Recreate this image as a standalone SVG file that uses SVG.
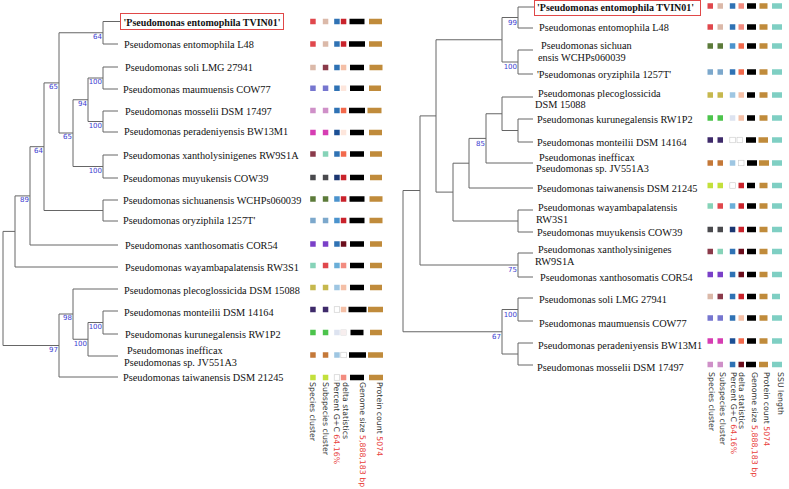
<svg xmlns="http://www.w3.org/2000/svg" width="789" height="489" viewBox="0 0 789 489">
<style>
.t{font-family:"Liberation Serif","Times New Roman",serif;font-size:10.3px;fill:#111}
.b{font-weight:bold;font-size:10px}
.s{font-family:"DejaVu Sans",sans-serif;font-size:7px;fill:#3b3bd0;text-anchor:end}
.lg{font-family:"DejaVu Sans",sans-serif;font-size:7.8px;fill:#333}
.rd{fill:#e8403a}
.e{fill:none;stroke:#666;stroke-width:1}
.box{fill:none;stroke:#e04848;stroke-width:1}
.red1{fill:#e0474c}.beige{fill:#dbb9a9}.blA{fill:#2f72b4}.blD{fill:#1c4f94}.navy{fill:#1b3671}
.blL{fill:#4b93cd}.blW{fill:#6aaed8}.blLL{fill:#9ec6e2}.blV{fill:#dde3f0}.red2{fill:#c9222b}
.salm{fill:#f28b7f}.peach{fill:#f4bfa6}.peachL{fill:#fde6dc}.oran{fill:#f2694c}.dred{fill:#6b0d1c}
.maroon{fill:#8a3a4a}.slate{fill:#7676cf}.lilac{fill:#cf90c8}.mag{fill:#d63db3}.mint{fill:#86d3b8}
.dgray{fill:#4a4a4e}.olive{fill:#5c7b3a}.steel{fill:#7ca8cc}.purp{fill:#7a40c8}.oy{fill:#c6b84e}
.dpurp{fill:#3e2a6a}.green{fill:#4cc44c}.bo{fill:#c47838}.yg{fill:#c3e03c}.blk{fill:#000}
.brown{fill:#c08b3b}.teal{fill:#7fcfc3}.wht{fill:#fff;stroke:#c8c8c8;stroke-width:0.6}.pk{fill:#f7eeee;stroke:#ddd;stroke-width:0.5}
</style>

<g id="connectors">
<path class="e" d="M3,231.4V345.5M3,231.4H15M3,345.5H59M15,195.9V267M15,195.9H30M15,267H118M30,146.7V245M30,146.7H44M30,245H118M44,82.9V210.5M44,82.9H59M44,210.5H103M103,200V221M103,200H118M103,221H118M59,32.75V133M59,32.75H103M59,133H73M103,21.5V44M103,21.5H120M103,44H118M73,99.75V166.5M73,99.75H88M73,166.5H103M103,155V178M103,155H118M103,178H118M88,78V121.5M88,78H103M88,121.5H103M103,67V89M103,67H118M103,89H118M103,111V132M103,111H118M103,132H118M59,314V377M59,314H73M59,377H118M73,289V339.25M73,289H118M73,339.25H88M88,322.5V356M88,322.5H103M88,356H118M103,311V334M103,311H118M103,334H118"/>
<path class="e" d="M403,190.5V331.75M403,190.5H420M403,331.75H502M420,115.9V265M420,115.9H436M420,265H518M518,253V277M518,253H533M518,277H533M436,39.75V192.1M436,39.75H502M436,192.1H453M502,17.5V62M502,17.5H518M502,62H518M518,7V28M518,7H534M518,28H533M518,50V74M518,50H533M518,74H533M453,163.2V221M453,163.2H469M453,221H518M518,210V232M518,210H533M518,232H533M469,138.4V188M469,138.4H486M469,188H533M486,113.75V163M486,113.75H502M486,163H533M502,97V130.5M502,97H533M502,130.5H518M518,119V142M518,119H533M518,142H533M502,309.5V354M502,309.5H518M502,354H518M518,298V321M518,298H533M518,321H533M518,343V365M518,343H533M518,365H533"/>
</g>

<g id="left-support">
<g id="lnJ1"><text class="s" x="102" y="39">64</text></g>
<g id="lnT"><text class="s" x="102" y="84.3">100</text></g>
<g id="lnU"><text class="s" x="102" y="127.8">100</text></g>
<g id="lnC"><text class="s" x="87" y="106">94</text></g>
<g id="lnR"><text class="s" x="102" y="172.8">100</text></g>
<g id="lnB"><text class="s" x="72" y="139.3">65</text></g>
<g id="lnA"><text class="s" x="58" y="89.2">65</text></g>
<g id="lnD"><text class="s" x="43" y="153">64</text></g>
<g id="lnE"><text class="s" x="29" y="202.2">89</text></g>
<g id="lnJ"><text class="s" x="102" y="328.8">100</text></g>
<g id="lnI"><text class="s" x="87" y="345.5">100</text></g>
<g id="lnH"><text class="s" x="72" y="320.3">98</text></g>
<g id="lnG"><text class="s" x="58" y="351.8">97</text></g>
</g>

<g id="right-support">
<g id="rnW1"><text class="s" x="517" y="24.8">99</text></g>
<g id="rnW2"><text class="s" x="517" y="69.3">100</text></g>
<g id="rnM"><text class="s" x="485" y="145.7">85</text></g>
<g id="rnR"><text class="s" x="517" y="272.3">75</text></g>
<g id="rnT"><text class="s" x="517" y="316.8">100</text></g>
<g id="rnV"><text class="s" x="501" y="339">67</text></g>
</g>

<!-- LEFT LEAVES -->
<g id="l01">
<rect class="box" x="120.5" y="13.5" width="163" height="16"/>
<text class="t b" x="123.5" y="25.5">'Pseudomonas entomophila TVIN01'</text>
<rect class="red1" x="310.2" y="18.75" width="5.5" height="5.5"/><rect class="beige" x="322.8" y="18.75" width="5.5" height="5.5"/><rect class="blA" x="334.2" y="18.75" width="5.5" height="5.5"/><rect class="red2" x="340.8" y="18.75" width="5.5" height="5.5"/><rect class="blk" x="349.5" y="18.75" width="15" height="5.5"/><rect class="brown" x="369" y="18.75" width="13" height="5.5"/>
</g>
<g id="l02">
<text class="t" x="124" y="47.5">Pseudomonas entomophila L48</text>
<rect class="red1" x="310.2" y="41.25" width="5.5" height="5.5"/><rect class="beige" x="322.8" y="41.25" width="5.5" height="5.5"/><rect class="blA" x="334.2" y="41.25" width="5.5" height="5.5"/><rect class="red2" x="340.8" y="41.25" width="5.5" height="5.5"/><rect class="blk" x="349" y="41.25" width="16" height="5.5"/><rect class="brown" x="369" y="41.25" width="13" height="5.5"/>
</g>
<g id="l03">
<text class="t" x="125" y="70.5">Pseudomonas soli LMG 27941</text>
<rect class="beige" x="310.2" y="64.75" width="5.5" height="5.5"/><rect class="maroon" x="322.8" y="64.75" width="5.5" height="5.5"/><rect class="blA" x="334.2" y="64.75" width="5.5" height="5.5"/><rect class="peach" x="340.8" y="64.75" width="5.5" height="5.5"/><rect class="blk" x="350" y="64.75" width="14" height="5.5"/><rect class="brown" x="369.5" y="64.75" width="13" height="5.5"/>
</g>
<g id="l04">
<text class="t" x="123" y="92.5">Pseudomonas maumuensis COW77</text>
<rect class="slate" x="310.2" y="85.5" width="5.5" height="5.5"/><rect class="slate" x="322.8" y="85.5" width="5.5" height="5.5"/><rect class="blA" x="334.2" y="85.5" width="5.5" height="5.5"/><rect class="peachL" x="340.8" y="85.5" width="5.5" height="5.5"/><rect class="blk" x="350" y="85.5" width="14" height="5.5"/><rect class="brown" x="369" y="85.5" width="12" height="5.5"/>
</g>
<g id="l05">
<text class="t" x="125" y="114.5">Pseudomonas mosselii DSM 17497</text>
<rect class="lilac" x="310.2" y="107.75" width="5.5" height="5.5"/><rect class="lilac" x="322.8" y="107.75" width="5.5" height="5.5"/><rect class="blA" x="334.2" y="107.75" width="5.5" height="5.5"/><rect class="oran" x="340.8" y="107.75" width="5.5" height="5.5"/><rect class="blk" x="349" y="107.75" width="16" height="5.5"/><rect class="brown" x="367.5" y="107.75" width="14" height="5.5"/>
</g>
<g id="l06">
<text class="t" x="124" y="134.5">Pseudomonas peradeniyensis BW13M1</text>
<rect class="mag" x="310.2" y="129.75" width="5.5" height="5.5"/><rect class="mag" x="322.8" y="129.75" width="5.5" height="5.5"/><rect class="blD" x="334.2" y="129.75" width="5.5" height="5.5"/><rect class="peachL" x="340.8" y="129.75" width="5.5" height="5.5"/><rect class="blk" x="350" y="129.75" width="14" height="5.5"/><rect class="brown" x="369" y="129.75" width="13" height="5.5"/>
</g>
<g id="l07">
<text class="t" x="123" y="158.5">Pseudomonas xantholysinigenes RW9S1A</text>
<rect class="maroon" x="310.2" y="151.25" width="5.5" height="5.5"/><rect class="mint" x="322.8" y="151.25" width="5.5" height="5.5"/><rect class="blA" x="334.2" y="151.25" width="5.5" height="5.5"/><rect class="oran" x="340.8" y="151.25" width="5.5" height="5.5"/><rect class="blk" x="350" y="151.25" width="14" height="5.5"/><rect class="brown" x="370" y="151.25" width="12" height="5.5"/>
</g>
<g id="l08">
<text class="t" x="123" y="181.5">Pseudomonas muyukensis COW39</text>
<rect class="dgray" x="310.2" y="174.75" width="5.5" height="5.5"/><rect class="dgray" x="322.8" y="174.75" width="5.5" height="5.5"/><rect class="navy" x="334.2" y="174.75" width="5.5" height="5.5"/><rect class="red2" x="340.8" y="174.75" width="5.5" height="5.5"/><rect class="blk" x="350" y="174.75" width="14" height="5.5"/><rect class="brown" x="370" y="174.75" width="12" height="5.5"/>
</g>
<g id="l09">
<text class="t" x="123" y="203.5">Pseudomonas sichuanensis WCHPs060039</text>
<rect class="olive" x="310.2" y="196.25" width="5.5" height="5.5"/><rect class="olive" x="322.8" y="196.25" width="5.5" height="5.5"/><rect class="blL" x="334.2" y="196.25" width="5.5" height="5.5"/><rect class="red2" x="340.8" y="196.25" width="5.5" height="5.5"/><rect class="blk" x="349.5" y="196.25" width="15" height="5.5"/><rect class="brown" x="369.5" y="196.25" width="13" height="5.5"/>
</g>
<g id="l10">
<text class="t" x="123" y="223.5">Pseudomonas oryziphila 1257T'</text>
<rect class="steel" x="310.2" y="217.75" width="5.5" height="5.5"/><rect class="steel" x="322.8" y="217.75" width="5.5" height="5.5"/><rect class="blL" x="334.2" y="217.75" width="5.5" height="5.5"/><rect class="red2" x="340.8" y="217.75" width="5.5" height="5.5"/><rect class="blk" x="349.5" y="217.75" width="15" height="5.5"/><rect class="brown" x="369.5" y="217.75" width="13" height="5.5"/>
</g>
<g id="l11">
<text class="t" x="125" y="248.5">Pseudomonas xanthosomatis COR54</text>
<rect class="purp" x="310.2" y="241.25" width="5.5" height="5.5"/><rect class="purp" x="322.8" y="241.25" width="5.5" height="5.5"/><rect class="blA" x="334.2" y="241.25" width="5.5" height="5.5"/><rect class="dred" x="340.8" y="241.25" width="5.5" height="5.5"/><rect class="blk" x="350" y="241.25" width="14" height="5.5"/><rect class="brown" x="370" y="241.25" width="12" height="5.5"/>
</g>
<g id="l12">
<text class="t" x="125" y="271">Pseudomonas wayambapalatensis RW3S1</text>
<rect class="mint" x="310.2" y="262.75" width="5.5" height="5.5"/><rect class="red1" x="322.8" y="262.75" width="5.5" height="5.5"/><rect class="blW" x="334.2" y="262.75" width="5.5" height="5.5"/><rect class="salm" x="340.8" y="262.75" width="5.5" height="5.5"/><rect class="blk" x="350" y="262.75" width="14" height="5.5"/><rect class="brown" x="370" y="262.75" width="12" height="5.5"/>
</g>
<g id="l13">
<text class="t" x="124" y="293.5">Pseudomonas plecoglossicida DSM 15088</text>
<rect class="oy" x="310.2" y="284.75" width="5.5" height="5.5"/><rect class="oy" x="322.8" y="284.75" width="5.5" height="5.5"/><rect class="blLL" x="334.2" y="284.75" width="5.5" height="5.5"/><rect class="peach" x="340.8" y="284.75" width="5.5" height="5.5"/><rect class="blk" x="350" y="284.75" width="14" height="5.5"/><rect class="brown" x="370" y="284.75" width="12" height="5.5"/>
</g>
<g id="l14">
<text class="t" x="124" y="315.5">Pseudomonas monteilii DSM 14164</text>
<rect class="dpurp" x="310.2" y="306.75" width="5.5" height="5.5"/><rect class="dpurp" x="322.8" y="306.75" width="5.5" height="5.5"/><rect class="wht" x="334.2" y="306.75" width="5.5" height="5.5"/><rect class="peach" x="340.8" y="306.75" width="5.5" height="5.5"/><rect class="blk" x="348.5" y="306.75" width="18" height="5.5"/><rect class="brown" x="368" y="306.75" width="15" height="5.5"/>
</g>
<g id="l15">
<text class="t" x="125" y="337.5">Pseudomonas kurunegalensis RW1P2</text>
<rect class="green" x="310.2" y="329.75" width="5.5" height="5.5"/><rect class="green" x="322.8" y="329.75" width="5.5" height="5.5"/><rect class="blV" x="334.2" y="329.75" width="5.5" height="5.5"/><rect class="pk" x="340.8" y="329.75" width="5.5" height="5.5"/><rect class="blk" x="350.5" y="329.75" width="13" height="5.5"/><rect class="brown" x="370" y="329.75" width="12" height="5.5"/>
</g>
<g id="l16">
<text class="t" x="127" y="353.5">Pseudomonas inefficax</text>
<text class="t" x="124" y="365.5">Pseudomonas sp. JV551A3</text>
<rect class="bo" x="310.2" y="352.25" width="5.5" height="5.5"/><rect class="bo" x="322.8" y="352.25" width="5.5" height="5.5"/><rect class="blLL" x="334.2" y="352.25" width="5.5" height="5.5"/><rect class="wht" x="340.8" y="352.25" width="5.5" height="5.5"/><rect class="blk" x="349" y="352.25" width="17" height="5.5"/><rect class="brown" x="368" y="352.25" width="15" height="5.5"/>
</g>
<g id="l17">
<text class="t" x="123" y="380.5">Pseudomonas taiwanensis DSM 21245</text>
<rect class="yg" x="310.2" y="374.75" width="5.5" height="5.5"/><rect class="yg" x="322.8" y="374.75" width="5.5" height="5.5"/><rect class="wht" x="334.2" y="374.75" width="5.5" height="5.5"/><rect class="salm" x="340.8" y="374.75" width="5.5" height="5.5"/><rect class="blk" x="350" y="374.75" width="14" height="5.5"/><rect class="brown" x="369" y="374.75" width="14" height="5.5"/>
</g>

<g id="left-legend">
<text class="lg" transform="translate(310.3,382) rotate(90)">Species cluster</text>
<text class="lg" transform="translate(323,382) rotate(90)">Subspecies cluster</text>
<text class="lg" transform="translate(334.3,382) rotate(90)">Percent G+C <tspan class="rd">64.16%</tspan></text>
<text class="lg" transform="translate(342.5,382) rotate(90)">delta statistics</text>
<text class="lg" transform="translate(359.5,382) rotate(90)">Genome size <tspan class="rd">5,888,183 bp</tspan></text>
<text class="lg" transform="translate(376.8,382) rotate(90)">Protein count <tspan class="rd">5074</tspan></text>
</g>

<!-- RIGHT LEAVES -->
<g id="r01">
<rect class="box" x="534.5" y="0.5" width="166" height="15"/>
<text class="t b" x="537" y="10.5">'Pseudomonas entomophila TVIN01'</text>
<rect class="red1" x="707.5" y="3.25" width="5.5" height="5.5"/><rect class="beige" x="717.5" y="3.25" width="5.5" height="5.5"/><rect class="blA" x="729.8" y="3.25" width="5.5" height="5.5"/><rect class="salm" x="738.5" y="3.25" width="5.5" height="5.5"/><rect class="blk" x="747" y="3.25" width="9" height="5.5"/><rect class="brown" x="759.5" y="3.25" width="8" height="5.5"/><rect class="teal" x="772" y="3.25" width="10" height="5.5"/>
</g>
<g id="r02">
<text class="t" x="539" y="30.5">Pseudomonas entomophila L48</text>
<rect class="red1" x="707.5" y="24.25" width="5.5" height="5.5"/><rect class="beige" x="717.5" y="24.25" width="5.5" height="5.5"/><rect class="blA" x="729.8" y="24.25" width="5.5" height="5.5"/><rect class="salm" x="738.5" y="24.25" width="5.5" height="5.5"/><rect class="blk" x="747" y="24.25" width="9" height="5.5"/><rect class="brown" x="759.5" y="24.25" width="8" height="5.5"/><rect class="teal" x="772" y="24.25" width="10" height="5.5"/>
</g>
<g id="r03">
<text class="t" x="541" y="48.5">Pseudomonas sichuan</text>
<text class="t" x="538" y="60.5">ensis WCHPs060039</text>
<rect class="olive" x="707.5" y="43.25" width="5.5" height="5.5"/><rect class="olive" x="717.5" y="43.25" width="5.5" height="5.5"/><rect class="blL" x="729.8" y="43.25" width="5.5" height="5.5"/><rect class="oran" x="738.5" y="43.25" width="5.5" height="5.5"/><rect class="blk" x="747" y="43.25" width="9" height="5.5"/><rect class="brown" x="759.5" y="43.25" width="8" height="5.5"/><rect class="teal" x="772" y="43.25" width="10" height="5.5"/>
</g>
<g id="r04">
<text class="t" x="537" y="77.5">'Pseudomonas oryziphila 1257T'</text>
<rect class="steel" x="707.5" y="69.25" width="5.5" height="5.5"/><rect class="steel" x="717.5" y="69.25" width="5.5" height="5.5"/><rect class="blA" x="729.8" y="69.25" width="5.5" height="5.5"/><rect class="oran" x="738.5" y="69.25" width="5.5" height="5.5"/><rect class="blk" x="747" y="69.25" width="9" height="5.5"/><rect class="brown" x="759.5" y="69.25" width="8" height="5.5"/><rect class="teal" x="772" y="69.25" width="10" height="5.5"/>
</g>
<g id="r05">
<text class="t" x="538" y="96.5">Pseudomonas plecoglossicida</text>
<text class="t" x="535" y="107.5">DSM 15088</text>
<rect class="oy" x="707.5" y="92.25" width="5.5" height="5.5"/><rect class="oy" x="717.5" y="92.25" width="5.5" height="5.5"/><rect class="blLL" x="729.8" y="92.25" width="5.5" height="5.5"/><rect class="peach" x="738.5" y="92.25" width="5.5" height="5.5"/><rect class="blk" x="747" y="92.25" width="8" height="5.5"/><rect class="brown" x="759.5" y="92.25" width="8" height="5.5"/><rect class="teal" x="772" y="92.25" width="10" height="5.5"/>
</g>
<g id="r06">
<text class="t" x="537" y="122.5">Pseudomonas kurunegalensis RW1P2</text>
<rect class="green" x="707.5" y="115.25" width="5.5" height="5.5"/><rect class="green" x="717.5" y="115.25" width="5.5" height="5.5"/><rect class="blV" x="729.8" y="115.25" width="5.5" height="5.5"/><rect class="peach" x="738.5" y="115.25" width="5.5" height="5.5"/><rect class="blk" x="747" y="115.25" width="8" height="5.5"/><rect class="brown" x="759.5" y="115.25" width="8" height="5.5"/><rect class="teal" x="772" y="115.25" width="10" height="5.5"/>
</g>
<g id="r07">
<text class="t" x="537" y="145.5">Pseudomonas monteilii DSM 14164</text>
<rect class="dpurp" x="707.5" y="137.25" width="5.5" height="5.5"/><rect class="dpurp" x="717.5" y="137.25" width="5.5" height="5.5"/><rect class="wht" x="729.8" y="137.25" width="5.5" height="5.5"/><rect class="wht" x="737" y="137.25" width="5.5" height="5.5"/><rect class="blk" x="746" y="137.25" width="10" height="5.5"/><rect class="brown" x="758.5" y="137.25" width="9.5" height="5.5"/><rect class="teal" x="772" y="137.25" width="10" height="5.5"/>
</g>
<g id="r08">
<text class="t" x="539" y="160.5">Pseudomonas inefficax</text>
<text class="t" x="536" y="171.5">Pseudomonas sp. JV551A3</text>
<rect class="bo" x="707.5" y="160.25" width="5.5" height="5.5"/><rect class="bo" x="717.5" y="160.25" width="5.5" height="5.5"/><rect class="blLL" x="729.8" y="160.25" width="5.5" height="5.5"/><rect class="wht" x="738.5" y="160.25" width="5.5" height="5.5"/><rect class="blk" x="747" y="160.25" width="10" height="5.5"/><rect class="brown" x="759" y="160.25" width="10" height="5.5"/><rect class="teal" x="772" y="160.25" width="10" height="5.5"/>
</g>
<g id="r09">
<text class="t" x="537" y="191.5">Pseudomonas taiwanensis DSM 21245</text>
<rect class="yg" x="707.5" y="182.75" width="5.5" height="5.5"/><rect class="yg" x="717.5" y="182.75" width="5.5" height="5.5"/><rect class="wht" x="729.8" y="182.75" width="5.5" height="5.5"/><rect class="red2" x="738.5" y="182.75" width="5.5" height="5.5"/><rect class="blk" x="747" y="182.75" width="8" height="5.5"/><rect class="brown" x="759.5" y="182.75" width="8" height="5.5"/><rect class="teal" x="772" y="182.75" width="10" height="5.5"/>
</g>
<g id="r10">
<text class="t" x="538" y="210.5">Pseudomonas wayambapalatensis</text>
<text class="t" x="536" y="222.5">RW3S1</text>
<rect class="mint" x="707.5" y="203.25" width="5.5" height="5.5"/><rect class="red1" x="717.5" y="203.25" width="5.5" height="5.5"/><rect class="blW" x="729.8" y="203.25" width="5.5" height="5.5"/><rect class="red2" x="738.5" y="203.25" width="5.5" height="5.5"/><rect class="blk" x="747" y="203.25" width="9" height="5.5"/><rect class="brown" x="759.5" y="203.25" width="8" height="5.5"/><rect class="teal" x="772" y="203.25" width="10" height="5.5"/>
</g>
<g id="r11">
<text class="t" x="537" y="235.5">Pseudomonas muyukensis COW39</text>
<rect class="dgray" x="707.5" y="226.75" width="5.5" height="5.5"/><rect class="dgray" x="717.5" y="226.75" width="5.5" height="5.5"/><rect class="navy" x="729.8" y="226.75" width="5.5" height="5.5"/><rect class="red2" x="738.5" y="226.75" width="5.5" height="5.5"/><rect class="blk" x="747" y="226.75" width="9" height="5.5"/><rect class="brown" x="759.5" y="226.75" width="8" height="5.5"/><rect class="teal" x="772" y="226.75" width="10" height="5.5"/>
</g>
<g id="r12">
<text class="t" x="538" y="252.5">Pseudomonas xantholysinigenes</text>
<text class="t" x="535" y="264.5">RW9S1A</text>
<rect class="maroon" x="707.5" y="248.75" width="5.5" height="5.5"/><rect class="mint" x="717.5" y="248.75" width="5.5" height="5.5"/><rect class="blA" x="729.8" y="248.75" width="5.5" height="5.5"/><rect class="dred" x="738.5" y="248.75" width="5.5" height="5.5"/><rect class="blk" x="747" y="248.75" width="9" height="5.5"/><rect class="brown" x="759.5" y="248.75" width="8" height="5.5"/><rect class="teal" x="772" y="248.75" width="10" height="5.5"/>
</g>
<g id="r13">
<text class="t" x="540" y="280.5">Pseudomonas xanthosomatis COR54</text>
<rect class="purp" x="707.5" y="271.75" width="5.5" height="5.5"/><rect class="purp" x="717.5" y="271.75" width="5.5" height="5.5"/><rect class="blA" x="729.8" y="271.75" width="5.5" height="5.5"/><rect class="dred" x="738.5" y="271.75" width="5.5" height="5.5"/><rect class="blk" x="747" y="271.75" width="9" height="5.5"/><rect class="brown" x="759.5" y="271.75" width="8" height="5.5"/><rect class="teal" x="772" y="271.75" width="10" height="5.5"/>
</g>
<g id="r14">
<text class="t" x="539" y="302.5">Pseudomonas soli LMG 27941</text>
<rect class="beige" x="707.5" y="293.75" width="5.5" height="5.5"/><rect class="maroon" x="717.5" y="293.75" width="5.5" height="5.5"/><rect class="blA" x="729.8" y="293.75" width="5.5" height="5.5"/><rect class="red2" x="738.5" y="293.75" width="5.5" height="5.5"/><rect class="blk" x="747" y="293.75" width="9" height="5.5"/><rect class="brown" x="759.5" y="293.75" width="8" height="5.5"/><rect class="teal" x="772" y="293.75" width="8" height="5.5"/>
</g>
<g id="r15">
<text class="t" x="539" y="326.5">Pseudomonas maumuensis COW77</text>
<rect class="slate" x="707.5" y="315.25" width="5.5" height="5.5"/><rect class="slate" x="717.5" y="315.25" width="5.5" height="5.5"/><rect class="blA" x="729.8" y="315.25" width="5.5" height="5.5"/><rect class="peach" x="738.5" y="315.25" width="5.5" height="5.5"/><rect class="blk" x="747" y="315.25" width="9" height="5.5"/><rect class="brown" x="759.5" y="315.25" width="8" height="5.5"/><rect class="teal" x="772" y="315.25" width="10" height="5.5"/>
</g>
<g id="r16">
<text class="t" x="538" y="348.5">Pseudomonas peradeniyensis BW13M1</text>
<rect class="mag" x="707.5" y="338.25" width="5.5" height="5.5"/><rect class="mag" x="717.5" y="338.25" width="5.5" height="5.5"/><rect class="blD" x="729.8" y="338.25" width="5.5" height="5.5"/><rect class="oran" x="738.5" y="338.25" width="5.5" height="5.5"/><rect class="blk" x="747" y="338.25" width="9" height="5.5"/><rect class="brown" x="759.5" y="338.25" width="8" height="5.5"/><rect class="teal" x="772" y="338.25" width="10" height="5.5"/>
</g>
<g id="r17">
<text class="t" x="537" y="370.5">Pseudomonas mosselii DSM 17497</text>
<rect class="lilac" x="707.5" y="361.75" width="5.5" height="5.5"/><rect class="lilac" x="717.5" y="361.75" width="5.5" height="5.5"/><rect class="blA" x="729.8" y="361.75" width="5.5" height="5.5"/><rect class="dred" x="738.5" y="361.75" width="5.5" height="5.5"/><rect class="blk" x="746" y="361.75" width="10" height="5.5"/><rect class="brown" x="759" y="361.75" width="9" height="5.5"/><rect class="teal" x="772" y="361.75" width="10" height="5.5"/>
</g>

<g id="right-legend">
<text class="lg" transform="translate(709.3,372) rotate(90)">Species cluster</text>
<text class="lg" transform="translate(719.5,372) rotate(90)">Subspecies cluster</text>
<text class="lg" transform="translate(730.8,372) rotate(90)">Percent G+C <tspan class="rd">64.16%</tspan></text>
<text class="lg" transform="translate(739,372) rotate(90)">delta statistics</text>
<text class="lg" transform="translate(751.5,372) rotate(90)">Genome size <tspan class="rd">5,888,183 bp</tspan></text>
<text class="lg" transform="translate(763.5,372) rotate(90)">Protein count <tspan class="rd">5074</tspan></text>
<text class="lg" transform="translate(777.5,372) rotate(90)">SSU length</text>
</g>
</svg>
